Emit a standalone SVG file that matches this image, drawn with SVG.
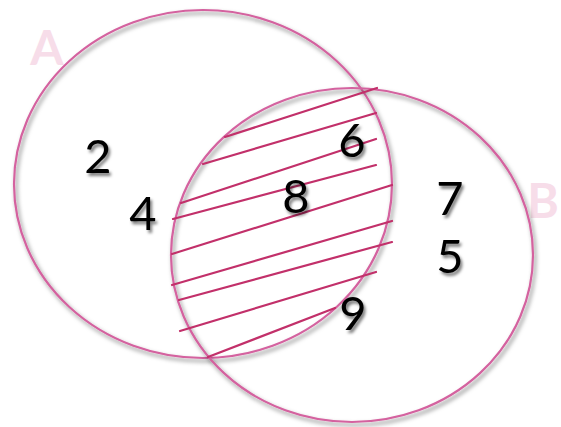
<svg xmlns="http://www.w3.org/2000/svg" width="561" height="427" viewBox="0 0 561 427">
  <defs>
    <filter id="sh" x="-20%" y="-20%" width="140%" height="140%">
      <feDropShadow dx="2" dy="3" stdDeviation="2" flood-color="#000" flood-opacity="0.5"/>
    </filter>
    <filter id="tsh" x="-30%" y="-30%" width="160%" height="160%">
      <feDropShadow dx="2" dy="3" stdDeviation="1.8" flood-color="#000" flood-opacity="0.5"/>
    </filter>
  </defs>
  <style>
    .set { fill: none; stroke: #d4629f; stroke-width: 2.2; }
    .hatch line { stroke: #c2306a; stroke-width: 2.2; stroke-linecap: round; }
    .num { font-family: Lato, "Open Sans", "DejaVu Sans", sans-serif; font-size: 47px; fill: #000; text-anchor: middle; }
    .lbl { font-family: Lato, "DejaVu Sans", sans-serif; font-size: 48px; font-weight: bold; fill: #f7dde9; text-anchor: middle; }
  </style>
  <rect width="561" height="427" fill="#fff"/>
  <g id="labelA"><text class="lbl" x="47" y="65">A</text></g>
  <g id="labelB"><text class="lbl" x="543" y="218">B</text></g>
  <g id="setA"><ellipse class="set" cx="203" cy="184" rx="189" ry="174" filter="url(#sh)"/></g>
  <g id="setB"><ellipse class="set" cx="352" cy="255" rx="181" ry="167" filter="url(#sh)"/></g>
  <g id="hatch" class="hatch">
    <line x1="225" y1="137" x2="377" y2="88"/>
    <line x1="203" y1="164" x2="376" y2="113"/>
    <line x1="181" y1="203" x2="376" y2="139"/>
    <line x1="173" y1="219" x2="376" y2="165"/>
    <line x1="172" y1="254" x2="392" y2="185"/>
    <line x1="172" y1="285" x2="392" y2="221"/>
    <line x1="179" y1="300" x2="392" y2="242"/>
    <line x1="180" y1="331" x2="376" y2="272"/>
    <line x1="208" y1="357" x2="335" y2="308"/>
  </g>
  <g id="elements" filter="url(#tsh)">
    <text class="num" x="98" y="173">2</text>
    <text class="num" x="143" y="230">4</text>
    <text class="num" x="296" y="213">8</text>
    <text class="num" x="352" y="157">6</text>
    <text class="num" x="353" y="330">9</text>
    <text class="num" x="450" y="215">7</text>
    <text class="num" x="450" y="273">5</text>
  </g>
</svg>
